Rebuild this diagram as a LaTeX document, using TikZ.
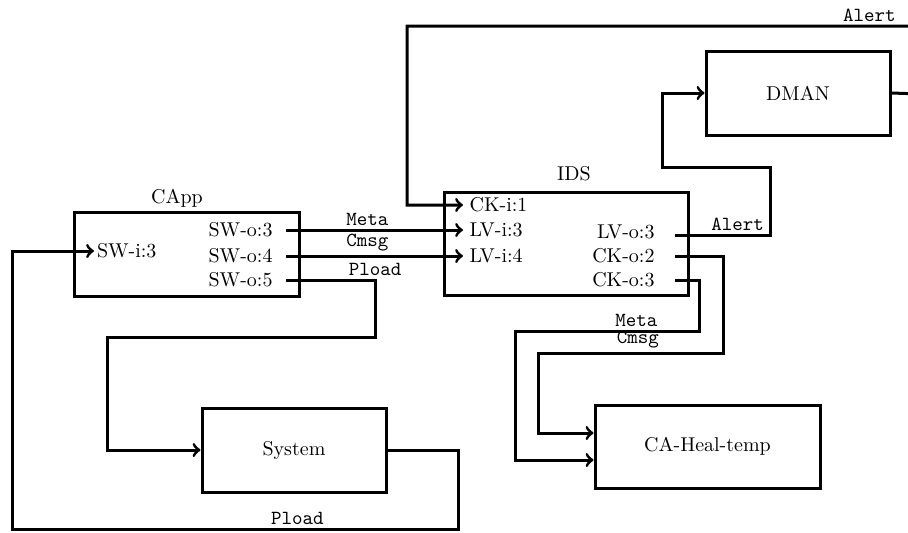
\documentclass[tikz,border=0pt]{standalone}
\begin{document}
\begin{tikzpicture}[x=0.5pt,y=-0.5pt,line width=1.5pt,
  blk/.style={draw,line width=1.5pt,minimum width=#1,minimum height=42pt,inner sep=0pt},
  inport/.style={anchor=west,inner sep=0pt,inner xsep=3.3pt,line width=0pt},
  outport/.style={anchor=east,inner sep=0pt,inner xsep=6pt},
  idsout/.style={anchor=east,inner sep=0pt,inner xsep=9.5pt},
  sig/.style={font=\ttfamily,inner sep=1.5pt},
  conn/.style={line width=1.5pt}]
\clip (0,0) rectangle (908,532);
\useasboundingbox (0,0) rectangle (908,532);
% blocks
\node[blk=112.5pt] (CApp) at (186.5,254) {};
\node (CAppT) at (177,198) {CApp};
\node[blk=92pt] (Sys) at (294,450) {System};
\node[blk=122pt,minimum height=51.5pt] (IDS) at (566,243.5) {};
\node (IDST) at (574,174) {IDS};
\node[blk=92pt] (DMAN) at (798,93) {DMAN};
\node[blk=112.5pt,minimum height=41.5pt] (CA) at (707.5,446.5) {CA-Heal-temp};
% ports
\node[inport,inner xsep=1.5pt] (SWi3) at (94,251) {SW-i:3};
\node[outport] (SWo3) at (286,230) {SW-o:3};
\node[outport] (SWo4) at (286,256) {SW-o:4};
\node[outport] (SWo5) at (286,280) {SW-o:5};
\node[inport] (CKi1) at (463,205) {CK-i:1};
\node[inport] (LVi3) at (463,230) {LV-i:3};
\node[inport] (LVi4) at (463,256) {LV-i:4};
\node[idsout] (LVo3) at (675,232) {LV-o:3};
\node[idsout] (CKo2) at (675,256) {CK-o:2};
\node[idsout] (CKo3) at (675,280) {CK-o:3};
% connectors
\draw[conn,->] (SWo3.east) -- node[sig,above,pos=0.46]{Meta} (LVi3.west);
\draw[conn,->] (SWo4.east) -- node[sig,above,pos=0.46]{Cmsg} (LVi4.west);
\draw[conn,->] (SWo5.east) -- (375,280) node[sig,above]{Pload} -- (375,337) -- (107,337) |- (Sys.west);
\draw[conn,->] (Sys.east) -- (458,450) -- (458,529) -- node[sig,above,pos=0.36]{Pload} (12,529) |- (SWi3.west);
\draw[conn,->] (DMAN.east) -- (980,96) -- (980,26) -- node[sig,above,pos=0.193]{Alert} (407,26) |- (CKi1.west);
\draw[conn,->] ([yshift=-1.5pt]LVo3.east) -- node[sig,above,pos=0.66]{Alert} (770,235) -- (770,167) -- (662,167) |- (DMAN.west);
\draw[conn,->] (CKo2.east) -- (723,256) -- (723,353) -- node[sig,above,pos=0.46]{Cmsg} (538,353) |- ([yshift=6.75pt]CA.west);
\draw[conn,->] (CKo3.east) -- (699,280) -- (699,331) -- node[sig,above,pos=0.34]{Meta} (515,331) |- ([yshift=-6.75pt]CA.west);
\end{tikzpicture}
\end{document}
